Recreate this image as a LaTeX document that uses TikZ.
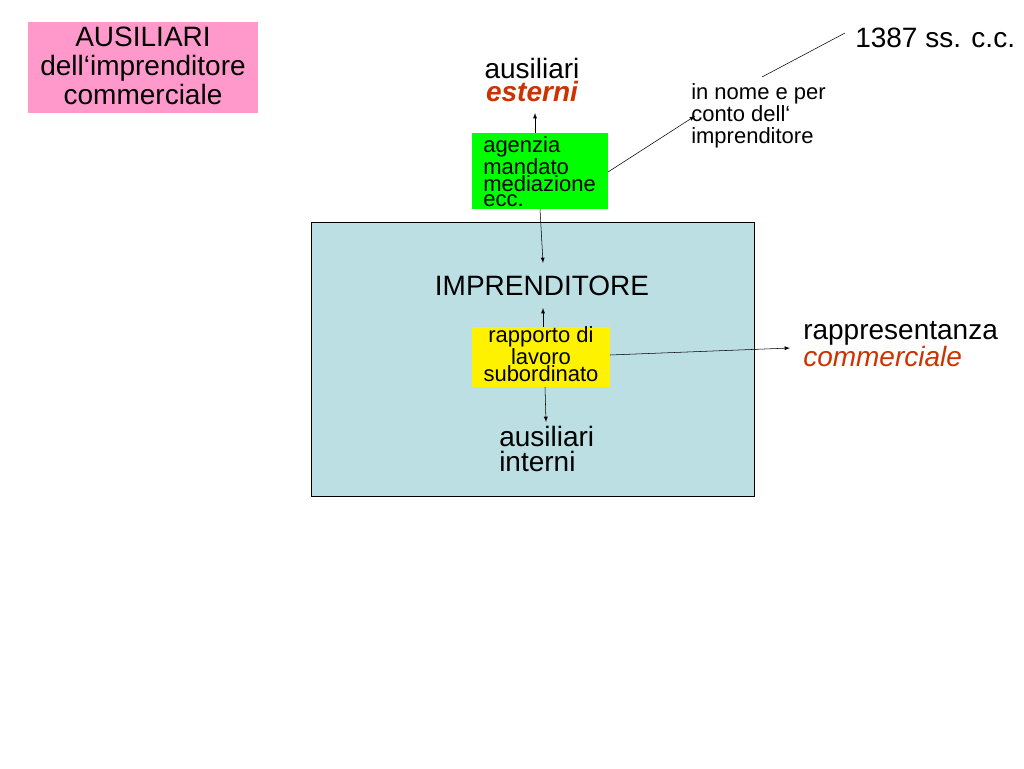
\documentclass[tikz,border=0pt]{standalone}
\usepackage{fontspec}
\setmainfont{Liberation Sans}
\definecolor{pinkb}{HTML}{FF99CC}
\definecolor{cyanb}{HTML}{BBDFE3}
\definecolor{redt}{HTML}{CC3300}
\begin{document}
\begin{tikzpicture}[x=0.75pt,y=-0.75pt,
  big/.style={font=\fontsize{21}{22}\selectfont,inner sep=0pt},
  small/.style={font=\fontsize{16.5}{11.5}\selectfont,inner sep=0pt,align=left},
  arr/.style={-latex,thin}]
\useasboundingbox (0,0) rectangle (1024,768);
\fill[pinkb] (28,22) rectangle (258,113);
\node[align=center,inner sep=0pt,font=\fontsize{21}{22}\selectfont] (title) at (143,66) {AUSILIARI\\dell‘imprenditore\\commerciale};
\node[big,anchor=west] (art) at (855,38) {1387 ss. c.c.};
\node[small,anchor=north west,font=\fontsize{16.5}{16.5}\selectfont] (nome) at (691,83) {in nome e per\\conto dell‘\\imprenditore};
\draw (845,33) coordinate (l1) -- (762,77) coordinate (l2);
\node[big,align=center,font=\fontsize{21}{17.5}\selectfont] (est) at (532,80) {ausiliari\\\textcolor{redt}{\bfseries\itshape esterni}};
\draw[fill=cyanb] (311,222) rectangle (754,496);
\fill[green] (472,133) rectangle (608,209);
\node[small,anchor=north west] (green) at (483,136) {agenzia\\mandato\\mediazione\\ecc.};
\node[big] (impr) at (542,286) {IMPRENDITORE};
\fill[yellow] (472,327) rectangle (610,387);
\node[small,align=center] (yel) at (541,354) {rapporto di\\lavoro\\subordinato};
\node[big,align=left,anchor=north west,font=\fontsize{21}{20}\selectfont] (rapp) at (803,321) {rappresentanza\\\textcolor{redt}{\itshape commerciale}};
\node[big,align=left,anchor=north west,font=\fontsize{21}{19}\selectfont] (int) at (499,426) {ausiliari\\interni};
\draw[arr] (535,133) -- (535,113);
\draw[arr] (608,172) -- (695,116);
\draw[arr] (540,209) -- (543,263);
\draw[arr] (543,327) -- (543,308);
\draw[arr] (545,387) -- (546,422);
\draw[arr] (610,355) -- (790,348);
\end{tikzpicture}
\end{document}
